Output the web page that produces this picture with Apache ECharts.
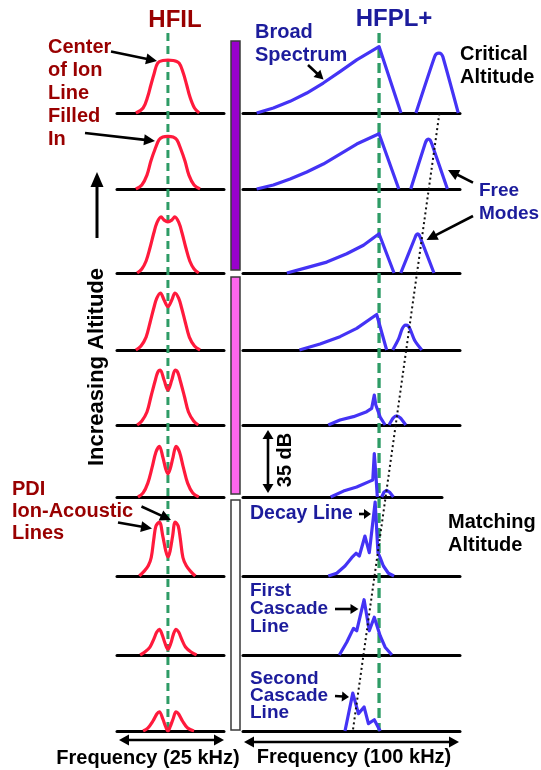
<!DOCTYPE html>
<html><head><meta charset="utf-8">
<script src="https://cdn.jsdelivr.net/npm/echarts@6/dist/echarts.min.js"></script>
<style>html,body{margin:0;padding:0;background:#fff}#c{width:541px;height:770px}</style>
</head><body><div id="c"></div>
<script>
// ---------------- DATA (frequency offset in kHz, level in dB) ----------------
const HFIL_RANGE_KHZ = [-11.9, 13.1];     // 25 kHz span
const HFPL_RANGE_KHZ = [-62.7, 37.3];     // 100 kHz span
const HFPL_ROW6_MAX_KHZ = 29.0;
const CENTER_KHZ = 0;

const HFIL_ROW1 = [[-7.5,0],[-5.8,2.7],[-4.7,9],[-4.0,15],[-3.2,21.5],[-2.4,27],[-1.2,28.4],[0,28.6],[1.2,28.4],[2.6,27],[3.6,21.5],[4.4,15],[5.1,9],[6.2,2.7],[7.3,0]];
const HFIL_ROW2 = [[-7.5,0],[-6.1,2.2],[-4.9,7.5],[-4.0,15],[-3.0,21.6],[-2.1,26.5],[-1.2,28.1],[0,28.5],[1.2,28.1],[2.1,26.5],[3.0,21.6],[4.0,15],[4.9,7.5],[6.1,2.2],[7.5,0]];
const HFIL_ROW3 = [[-7.2,0],[-6.1,2.2],[-5.1,6.5],[-4.2,13.5],[-3.3,21.6],[-2.6,27],[-1.6,30.3],[-0.9,28.6],[0,27.6],[0.9,28.6],[1.6,30.3],[2.6,27],[3.3,21.6],[4.2,13.5],[5.1,6.5],[6.1,2.2],[7.2,0]];
const HFIL_ROW4 = [[-7.5,0],[-6.3,2.2],[-5.1,7],[-4.2,14.6],[-3.3,22.7],[-2.6,28],[-1.75,30.8],[-0.9,27],[0,23.4],[0.9,27],[1.65,30.8],[2.5,28],[3.2,22.7],[4.1,14.6],[5.0,7],[6.2,2.2],[7.5,0]];
const HFIL_ROW5 = [[-7.2,0],[-6.1,2.2],[-4.9,7],[-4.0,15],[-3.0,23.8],[-2.4,28.4],[-1.8,29.7],[-0.9,24.3],[0,18.9],[0.9,24.3],[1.7,29.7],[2.3,28.4],[2.9,23.8],[3.9,15],[4.8,7],[6.0,2.2],[7.1,0]];
const HFIL_ROW6 = [[-7.0,0],[-5.8,2.2],[-4.7,7.5],[-3.7,16],[-2.8,24.3],[-2.0,27.4],[-1.2,21.6],[-0.5,15],[0,12.5],[0.5,15],[1.2,21.6],[1.9,27.4],[2.7,24.3],[3.6,16],[4.6,7.5],[5.8,2.2],[7.2,0]];
const HFIL_ROW7 = [[-6.7,0],[-5.6,2.5],[-4.6,5.5],[-3.9,10],[-3.3,20],[-2.8,27],[-2.0,29.2],[-1.2,21.6],[-0.5,13.5],[0,10.3],[0.5,13.5],[1.1,21.6],[1.7,29.2],[2.4,27],[2.9,20],[3.5,10],[4.3,5.5],[5.3,2.5],[6.4,0]];
const HFIL_ROW8 = [[-6.5,0],[-5.4,1.6],[-4.2,4.3],[-3.3,8.6],[-2.6,12.4],[-2.0,13.9],[-1.4,11.3],[-0.7,6.5],[0,3.1],[0.7,6.5],[1.3,11.3],[1.9,13.9],[2.5,12.4],[3.2,8.6],[4.1,4.3],[5.4,1.6],[6.7,0]];
const HFIL_ROW9 = [[-5.8,0],[-4.7,1.6],[-3.5,5.4],[-2.6,9.2],[-2.0,10.4],[-1.2,6.5],[-0.5,2.2],[0,0],[0.5,2.2],[1.2,6.5],[1.9,10.4],[2.5,9.2],[3.4,5.4],[4.6,1.6],[6.1,0]];
const HFIL_ROWS = [HFIL_ROW1,HFIL_ROW2,HFIL_ROW3,HFIL_ROW4,HFIL_ROW5,HFIL_ROW6,HFIL_ROW7,HFIL_ROW8,HFIL_ROW9];

const HFPL_ROW1_BROAD = [[-56.4,0],[-48.7,2.7],[-41.0,6.3],[-33.3,10.8],[-25.7,16.2],[-18.0,22.4],[-10.3,28.7],[0,35.9],[10.1,0]];
const HFPL_ROW1_FREE  = [[17.0,0],[25.6,30.4],[26.5,32],[27.6,32.4],[28.6,32],[29.4,30.4],[36.5,0]];
const HFPL_ROW2_BROAD = [[-56.4,0],[-48.7,2.2],[-41.0,5.4],[-33.3,9.2],[-25.7,13.5],[-18.0,18.9],[-10.3,24.3],[0,29.9],[9.1,0]];
const HFPL_ROW2_FREE  = [[14.6,0],[21.2,24.5],[22.0,26.5],[22.7,27],[23.5,26.5],[24.3,24.5],[31.5,0]];
const HFPL_ROW3_BROAD = [[-42.5,0],[-33.3,2.9],[-24.1,5.9],[-14.9,10.4],[-7.2,15],[0,21.2],[6.9,0]];
const HFPL_ROW3_FREE  = [[10.0,0],[16.6,19.2],[17.2,20.7],[17.8,21.2],[18.4,20.7],[19.0,19.2],[25.3,0]];
const HFPL_ROW4_BROAD = [[-36.7,0],[-27.2,3.2],[-18.0,7.2],[-10.3,11.7],[-1.1,19.2],[3.5,0]];
const HFPL_ROW4_FREE  = [[6.3,0],[9.0,6],[10.5,11],[11.5,13],[12.4,13.5],[13.4,13],[14.4,11],[16.5,5],[19.7,0]];
const HFPL_ROW5_BROAD = [[-23.4,0],[-18.0,2.7],[-11.8,4.5],[-5.7,7.2],[-3.4,9],[-2.6,9.2],[-2.2,16.2],[-1.5,10.8],[0.5,4.3],[2.8,0]];
const HFPL_ROW5_FREE  = [[4.6,0],[6.5,3.8],[8.1,5],[9.8,3.8],[12.3,0]];
const HFPL_ROW6_BROAD = [[-22.3,0],[-16.4,3.2],[-10.3,5.4],[-4.1,8.6],[-2.9,9.2],[-2.2,23.4],[-1.4,10.8],[-0.8,0]];
const HFPL_ROW6_FREE  = [[1.2,0],[2.3,2.7],[3.5,3.6],[4.8,2.7],[6.6,0]];
const HFPL_ROW7_DECAY = [[-23.4,0],[-19.5,1.5],[-15.7,5.4],[-12.6,9.9],[-10.6,12.3],[-9.1,10.8],[-6.5,21.6],[-4.5,12.6],[-1.8,40],[-0.5,12.6],[0.5,9.9],[2.0,5.4],[4.3,1.5],[6.9,0]];
const HFPL_ROW8_CASCADE1 = [[-18.3,0],[-14.9,6.9],[-11.8,14.4],[-10.3,13.1],[-6.9,29.9],[-4.5,13.1],[-2.2,20.4],[0.5,10.4],[2.8,4.2],[5.9,0]];
const HFPL_ROW9_CASCADE2 = [[-15.7,0],[-12.1,20.5],[-9.5,9.4],[-6.9,13],[-4.9,4],[-2.2,6.1],[0.5,0]];
const HFPL_ROWS = [
  [HFPL_ROW1_BROAD, HFPL_ROW1_FREE],
  [HFPL_ROW2_BROAD, HFPL_ROW2_FREE],
  [HFPL_ROW3_BROAD, HFPL_ROW3_FREE],
  [HFPL_ROW4_BROAD, HFPL_ROW4_FREE],
  [HFPL_ROW5_BROAD, HFPL_ROW5_FREE],
  [HFPL_ROW6_BROAD, HFPL_ROW6_FREE],
  [HFPL_ROW7_DECAY],
  [HFPL_ROW8_CASCADE1],
  [HFPL_ROW9_CASCADE2]
];
// free-mode trend (kHz, row index 0=top .. 8=bottom)
const FREE_MODE_TREND = [[27.8,0],[-12.1,8]];
const CENTER_LINE_ROWS = [-1.04, 8];

// ---------------- LAYOUT ----------------
const BASELINES = [113,189,273,350,425,497,576,655,731];
const PX_PER_DB = 1.85, YMAX = 44, GRID_H = YMAX*PX_PER_DB;
const L_LEFT = 117, L_W = 107, R_LEFT = 243, R_W = 217, R_W6 = 199;
const RED = '#ff1a3c', BLUE = '#4433f5', GREEN = '#2e9c66';
const DARKRED = '#990000', NAVY = '#1c1c9c';
const FONT = '"Liberation Sans", Arial, sans-serif';

const grid = [], xAxis = [], yAxis = [], series = [];
function addGrid(g, xmin, xmax, ymin, ymax, showLine, inverse){
  const i = grid.length;
  grid.push(Object.assign({containLabel:false}, g));
  xAxis.push({gridIndex:i, type:'value', min:xmin, max:xmax, show:showLine,
    axisLine:{show:showLine, onZero:false, lineStyle:{color:'#000', width:3}},
    axisTick:{show:false}, axisLabel:{show:false}, splitLine:{show:false}});
  yAxis.push({gridIndex:i, type:'value', min:ymin, max:ymax, show:false, inverse:!!inverse,
    splitLine:{show:false}});
  return i;
}
// overlay grids (full column height) for center lines and trend
const OV_TOP = 33, OV_H = BASELINES[8]-OV_TOP;
const ovL = addGrid({left:L_LEFT, width:L_W, top:OV_TOP, height:OV_H}, HFIL_RANGE_KHZ[0], HFIL_RANGE_KHZ[1], CENTER_LINE_ROWS[0], 8, false, true);
const ovR = addGrid({left:R_LEFT, width:R_W, top:OV_TOP, height:OV_H}, HFPL_RANGE_KHZ[0], HFPL_RANGE_KHZ[1], CENTER_LINE_ROWS[0], 8, false, true);
series.push({type:'line', xAxisIndex:ovL, yAxisIndex:ovL, data:CENTER_LINE_ROWS.map(r=>[CENTER_KHZ,r]), symbol:'none', silent:true,
  lineStyle:{color:GREEN, width:3, type:[8,5]}, z:1});
series.push({type:'line', xAxisIndex:ovR, yAxisIndex:ovR, data:CENTER_LINE_ROWS.map(r=>[CENTER_KHZ,r]), symbol:'none', silent:true,
  lineStyle:{color:GREEN, width:3.3, type:[10,5]}, z:1});

for (let r=0;r<9;r++){
  const top = BASELINES[r]-GRID_H;
  const gl = addGrid({left:L_LEFT, width:L_W, top:top, height:GRID_H}, HFIL_RANGE_KHZ[0], HFIL_RANGE_KHZ[1], 0, YMAX, true);
  series.push({type:'line', xAxisIndex:gl, yAxisIndex:gl, data:HFIL_ROWS[r], symbol:'none', smooth:0.35, silent:true,
    lineStyle:{color:RED, width:3.2}, z:3});
  const rmax = r===5 ? HFPL_ROW6_MAX_KHZ : HFPL_RANGE_KHZ[1];
  const gr = addGrid({left:R_LEFT, width:(r===5?R_W6:R_W), top:top, height:GRID_H}, HFPL_RANGE_KHZ[0], rmax, 0, YMAX, true);
  HFPL_ROWS[r].forEach((seg, k)=>{
    series.push({type:'line', xAxisIndex:gr, yAxisIndex:gr, data:seg, symbol:'none', silent:true,
      smooth:(r<=4 && k===1) ? 0.25 : false, clip:false,
      lineStyle:{color:BLUE, width:3.2, join:'round'}, z:3});
  });
}
series.push({type:'line', xAxisIndex:ovR, yAxisIndex:ovR, data:FREE_MODE_TREND, symbol:'none', silent:true,
  lineStyle:{color:'#111', width:2, type:[2,3]}, z:5});

// ---------------- ANNOTATIONS ----------------
function arrowHead(tx,ty,dx,dy,L,W,color){
  const len=Math.hypot(dx,dy), ux=dx/len, uy=dy/len;
  const bx=tx-ux*L, by=ty-uy*L;
  return {type:'polygon', shape:{points:[[tx,ty],[bx-uy*W,by+ux*W],[bx+uy*W,by-ux*W]]}, style:{fill:color}, z:10};
}
function arrow(x1,y1,x2,y2,opt){
  opt=opt||{}; const L=opt.L||11, W=opt.W||5.5, w=opt.w||2.6, color=opt.color||'#000';
  const dx=x2-x1, dy=y2-y1, len=Math.hypot(dx,dy), ux=dx/len, uy=dy/len;
  const els=[];
  const sx = opt.both ? x1+ux*(L-1) : x1, sy = opt.both ? y1+uy*(L-1) : y1;
  els.push({type:'line', shape:{x1:sx,y1:sy,x2:x2-ux*(L-1),y2:y2-uy*(L-1)}, style:{stroke:color, lineWidth:w}, z:10});
  els.push(arrowHead(x2,y2,dx,dy,L,W,color));
  if(opt.both) els.push(arrowHead(x1,y1,-dx,-dy,L,W,color));
  return els;
}
function txt(text,x,y,o){
  o=o||{};
  return {type:'text', x:o.px||0, y:o.py||0, rotation:o.rot||0, z:11,
    style:{text:text, x:x, y:y, fill:o.fill||'#000', font:(o.weight||'bold')+' '+(o.size||20)+'px '+FONT,
      textAlign:o.align||'left', align:o.align||'left',
      textVerticalAlign:o.va||'top', verticalAlign:o.va||'top', lineHeight:o.lh||22}};
}

const graphic = [];
// altitude band bars
graphic.push({type:'rect', shape:{x:231,y:41,width:9,height:229}, style:{fill:'#9900cc', stroke:'#3a3a3a', lineWidth:1.5}});
graphic.push({type:'rect', shape:{x:231,y:277,width:9,height:217}, style:{fill:'#ff66ee', stroke:'#3a3a3a', lineWidth:1.5}});
graphic.push({type:'rect', shape:{x:231,y:500,width:9,height:230}, style:{fill:'#ffffff', stroke:'#3a3a3a', lineWidth:1.5}});

// titles
graphic.push(txt('HFIL',175,20,{size:24, fill:DARKRED, align:'center', va:'middle'}));
graphic.push(txt('HFPL+',394,19,{size:24, fill:NAVY, align:'center', va:'middle'}));

// left annotations
graphic.push(txt('Center\nof Ion\nLine\nFilled\nIn',48,36,{fill:DARKRED, lh:23}));
graphic.push(...arrow(111,51.5,157,61));
graphic.push(...arrow(85,133,155,141));
graphic.push(txt('PDI\nIon-Acoustic\nLines',12,478,{fill:DARKRED, lh:22}));
graphic.push(...arrow(141.5,506.5,171,520));
graphic.push(...arrow(118,522.5,152,528.5));
graphic.push(txt('Increasing Altitude',0,0,{size:22, align:'center', va:'middle', px:97, py:367, rot:Math.PI/2}));
graphic.push(...arrow(97,238,97,172,{L:15,W:6.5,w:3}));

// right annotations
graphic.push(txt('Broad\nSpectrum',255,21,{fill:NAVY, lh:22.7}));
graphic.push(...arrow(308,65,323.5,79.5,{L:9,W:5}));
graphic.push(txt('Critical\nAltitude',460,42.5,{lh:23}));
graphic.push(txt('Free\nModes',479,179.4,{size:19, fill:NAVY, lh:22.6}));
graphic.push(...arrow(473,182.7,448,170));
graphic.push(...arrow(473,216,426.5,240));
graphic.push(txt('35 dB',0,0,{size:20, align:'center', va:'middle', px:285, py:460, rot:Math.PI/2}));
graphic.push(...arrow(268,430,268,493,{both:true,L:9,W:5.5}));
graphic.push(txt('Decay Line',250,514,{size:19.5, fill:NAVY, va:'middle'}));
graphic.push(...arrow(359,514,371,514,{L:7,W:5}));
graphic.push(txt('Matching\nAltitude',448,511,{lh:23.3}));
graphic.push(txt('First\nCascade\nLine',250,581.7,{size:19, fill:NAVY, lh:18}));
graphic.push(...arrow(335,609,358.5,609,{L:8,W:5}));
graphic.push(txt('Second\nCascade\nLine',250,670,{size:19, fill:NAVY, lh:17}));
graphic.push(...arrow(335,696,349,697,{L:7,W:5}));

// bottom frequency span arrows
graphic.push(...arrow(119,740,224,740,{both:true,L:10,W:5.5}));
graphic.push(txt('Frequency (25 kHz)',148,758,{align:'center', va:'middle'}));
graphic.push(...arrow(244,742,459,742,{both:true,L:10,W:5.5}));
graphic.push(txt('Frequency (100 kHz)',354,757,{align:'center', va:'middle'}));

const chart = echarts.init(document.getElementById('c'), null, {renderer:'canvas'});
chart.setOption({animation:false, backgroundColor:'#ffffff', grid, xAxis, yAxis, series, graphic});
</script></body></html>
